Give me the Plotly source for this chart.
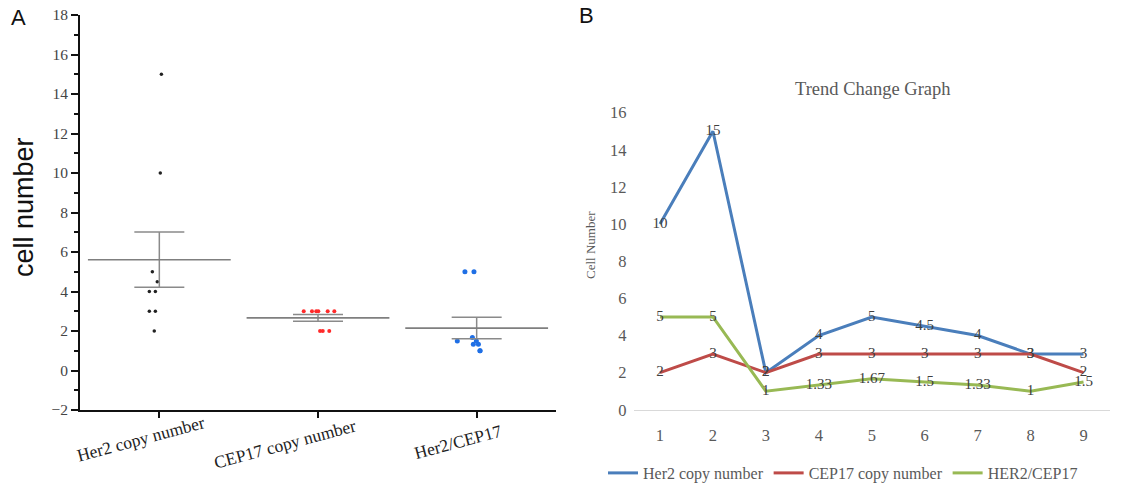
import numpy as np
import plotly.graph_objects as go

# ---------------- Panel A data ----------------
groups = ["Her2 copy number", "CEP17 copy number", "Her2/CEP17"]
her2_vals = [15, 10, 5, 4.5, 4, 4, 3, 3, 2]
her2_jit = [0.013, 0.006, -0.044, -0.013, -0.063, -0.025, -0.063, -0.025, -0.032]
cep17_vals = [3, 3, 3, 3, 3, 3, 2, 2, 2]
cep17_jit = [-0.090, -0.038, -0.011, 0.002, 0.061, 0.103, 0.013, 0.030, 0.071]
ratio_vals = [5, 5, 1.5, 1.5, 1.67, 1.33, 1.33, 1, 1]
ratio_jit = [-0.074, -0.017, -0.122, -0.002, -0.027, -0.021, 0.011, 0.021, 0.021]
a_yticks = [-2, 0, 2, 4, 6, 8, 10, 12, 14, 16, 18]

# ---------------- Panel B data ----------------
samples = [1, 2, 3, 4, 5, 6, 7, 8, 9]
her2_trend = [10, 15, 2, 4, 5, 4.5, 4, 3, 3]
cep17_trend = [2, 3, 2, 3, 3, 3, 3, 3, 2]
ratio_trend = [5, 5, 1, 1.33, 1.67, 1.5, 1.33, 1, 1.5]
trend_names = ["Her2 copy number", "CEP17 copy number", "HER2/CEP17"]
b_yticks = [0, 2, 4, 6, 8, 10, 12, 14, 16]

W, H = 1146, 486
def px(x):
    return x / W
def py(y):
    return 1 - y / H

SERIF = "Liberation Serif, Times New Roman, serif"
SANS = "Liberation Sans, Arial, sans-serif"

fig = go.Figure()

# ---- Panel A scatter points ----
dot_colors = ["#222222", "#ff2a2a", "#1f6fe5"]
dot_sizes = [3.5, 4, 5]
all_vals = [her2_vals, cep17_vals, ratio_vals]
all_jit = [her2_jit, cep17_jit, ratio_jit]
for i, (vals, jit) in enumerate(zip(all_vals, all_jit)):
    fig.add_trace(go.Scatter(
        x=[i + j for j in jit], y=vals, mode="markers",
        marker=dict(color=dot_colors[i], size=dot_sizes[i], line=dict(width=0)),
        xaxis="x", yaxis="y", showlegend=False, hoverinfo="y"))

# ---- mean +/- SEM ----
means = [float(np.mean(v)) for v in all_vals]
sems = [float(np.std(v, ddof=1) / np.sqrt(len(v))) for v in all_vals]
fig.add_trace(go.Scatter(
    x=[0, 1, 2], y=means, mode="markers",
    marker=dict(symbol="line-ew", size=102, color="#7f7f7f",
                line=dict(color="#7f7f7f", width=1.6)),
    error_y=dict(type="data", array=sems, visible=True, width=25,
                 thickness=1.5, color="#8a8a8a"),
    xaxis="x", yaxis="y", showlegend=False, hoverinfo="y"))

# ---- Panel B lines ----
line_colors = ["#4a7ebb", "#be4b48", "#98b954"]
trend_series = [her2_trend, cep17_trend, ratio_trend]
for name, ys, col in zip(trend_names, trend_series, line_colors):
    fig.add_trace(go.Scatter(
        x=samples, y=ys, mode="lines", name=name,
        line=dict(color=col, width=3),
        xaxis="x2", yaxis="y2"))
for ys in trend_series:
    fig.add_trace(go.Scatter(
        x=samples, y=ys, mode="text", text=[f"{v:g}" for v in ys],
        textposition="middle center",
        textfont=dict(family=SERIF, size=15, color="#404040"),
        xaxis="x2", yaxis="y2", showlegend=False, hoverinfo="skip",
        cliponaxis=False))

annotations = []
def note(text, x, y, size, family, color, angle=0, xref="paper", xshift=0):
    annotations.append(dict(text=text, x=x, y=y, xref=xref, yref="paper",
                            xanchor="center", yanchor="middle", xshift=xshift,
                            showarrow=False, textangle=angle,
                            font=dict(family=family, size=size, color=color)))

# Panel letters
note("A", px(18), py(17), 22, SANS, "#111111")
note("B", px(586), py(16), 22, SANS, "#111111")
# Panel A y title
note("cell number", px(24), py(207), 27, SANS, "#111111", angle=-90)
# Panel A rotated category labels
label_shift = [(-19, 438.5), (-33, 444), (-19, 441.5)]
for i, g in enumerate(groups):
    note(g, i, py(label_shift[i][1]), 17.5, SERIF, "#222222", angle=-15,
         xref="x", xshift=label_shift[i][0])
# Panel B title and y title
note("Trend Change Graph", px(873), py(89), 18.5, SERIF, "#595959")
note("Cell Number", px(590), py(245), 13, SERIF, "#595959", angle=-90)

fig.update_layout(
    width=W, height=H, margin=dict(l=0, r=0, t=0, b=0, autoexpand=False),
    paper_bgcolor="white", plot_bgcolor="white",
    xaxis=dict(domain=[px(80), px(556)], range=[-0.5, 2.5], anchor="y", automargin=False,
               showline=True, linecolor="#111111", linewidth=2,
               ticks="outside", tickvals=[0, 1, 2], ticklen=6, tickwidth=2,
               tickcolor="#111111", showticklabels=False, showgrid=False, zeroline=False),
    yaxis=dict(domain=[py(410), py(15)], range=[-2, 18], anchor="x", automargin=False,
               tickvals=a_yticks, ticks="outside", ticklen=7, tickwidth=1.5,
               tickcolor="#111111", showline=True, linecolor="#111111", linewidth=2,
               showgrid=False, zeroline=False,
               minor=dict(ticks="outside", ticklen=4, dtick=1, tick0=1,
                          tickcolor="#111111", tickwidth=1.5),
               tickfont=dict(family=SERIF, size=15.5, color="#444444")),
    xaxis2=dict(domain=[px(633.5), px(1110)], range=[0.5, 9.5], anchor="y2", automargin=False,
                tickvals=samples, showline=True, linecolor="#d9d9d9", linewidth=1,
                ticks="", showgrid=False, zeroline=False, ticklabelstandoff=10,
                tickfont=dict(family=SERIF, size=16.5, color="#595959")),
    yaxis2=dict(domain=[py(409.8), py(112.7)], range=[0, 16], anchor="x2", automargin=False,
                tickvals=b_yticks, showline=False, ticks="", showgrid=False,
                zeroline=False, ticklabelstandoff=6,
                tickfont=dict(family=SERIF, size=16.5, color="#595959")),
    legend=dict(orientation="h", x=px(843), xanchor="center", y=py(473), yanchor="middle",
                itemwidth=30, font=dict(family=SERIF, size=16, color="#595959"),
                bgcolor="rgba(0,0,0,0)"),
    annotations=annotations,
)

fig.write_html("out.html")
